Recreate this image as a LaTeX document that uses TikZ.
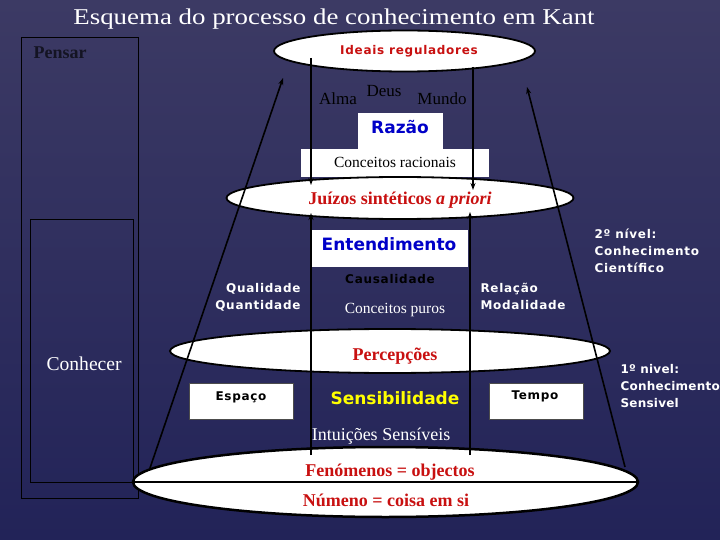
\documentclass[tikz,border=0pt]{standalone}
\usepackage{fontspec}
\setmainfont{Liberation Serif}
\newfontfamily\tagfont{DejaVu Sans Bold}[LetterSpace=6]
\newfontfamily\tagtightfont{DejaVu Sans Bold}[LetterSpace=2]
\newfontfamily\headfont{DejaVu Sans Bold}
\usetikzlibrary{arrows.meta, shapes.geometric}

\definecolor{bgtop}{RGB}{60,58,100}
\definecolor{bgbottom}{RGB}{34,35,88}
\definecolor{kantred}{RGB}{200,16,16}
\definecolor{kantblue}{RGB}{0,0,200}
\definecolor{kantyellow}{RGB}{255,255,0}
\definecolor{pensarink}{RGB}{20,20,35}

\tikzset{
  oval/.style={ellipse, draw=black, line width=1.8pt, fill=white, inner sep=0pt},
  panel/.style={fill=white, inner sep=0pt, anchor=north west},
  framebox/.style={draw=black, line width=0.8pt, inner sep=0pt, anchor=north west},
  tag/.style={font=\fontsize{12}{16}\selectfont\tagfont},
  tagtight/.style={font=\fontsize{12}{16}\selectfont\tagtightfont},
  heading/.style={font=\fontsize{17}{20}\selectfont\headfont},
  serif/.style={font=\fontsize{#1}{#1}\selectfont},
  boldserif/.style={font=\fontsize{#1}{#1}\selectfont\bfseries},
  link/.style={->, line width=1.6pt},
}

\begin{document}
\begin{tikzpicture}[x=1pt, y=-1pt, >={Stealth[length=7pt, width=5pt]}]
    \useasboundingbox (0,0) rectangle (720,540);
    % Background
    \shade[top color=bgtop, bottom color=bgbottom] (0,0) rectangle (720,540);

    % Title
    \node[white, font=\fontsize{22.6}{26}\selectfont, anchor=base] (title) at (334,25)
      {\scalebox{1.19}[1]{Esquema do processo de conhecimento em Kant}};

    % Pensar / Conhecer frames
    \node[framebox, minimum width=117pt, minimum height=461pt] (pensarbox) at (21,37) {};
    \node[framebox, minimum width=103pt, minimum height=263pt] (conhecerbox) at (30,219) {};
    \node[pensarink, boldserif=18, anchor=base west] (pensar) at (30,59) {Pensar};
    \node[white, serif=19.6, anchor=base west] (conhecer) at (43,370) {Conhecer};

    % White panels
    \node[panel, minimum width=85pt, minimum height=36pt] (razaobox) at (358,113) {};
    \node[panel, minimum width=188pt, minimum height=28pt] (racionaisbox) at (301,149) {};
    \node[panel, minimum width=156pt, minimum height=37pt] (entendbox) at (312,230) {};
    \node[framebox, fill=white, draw=black!70, minimum width=104pt, minimum height=36pt] (espacobox) at (189,383) {};
    \node[framebox, fill=white, draw=black!70, minimum width=94pt, minimum height=36pt] (tempobox) at (489,383) {};

    % Levels (ellipses)
    \node[oval, minimum width=261pt, minimum height=41pt] (ideais) at (404.5,51) {};
    \node[oval, minimum width=347pt, minimum height=42pt] (juizos) at (400,198) {};
    \node[oval, minimum width=440pt, minimum height=44pt] (percepcoes) at (390,351) {};
    \node[oval, line width=2.5pt, minimum width=505pt, minimum height=70pt] (fenomenos) at (385.5,482) {};
    \draw[line width=2.2pt] (fenomenos.west) -- (fenomenos.east);

    % Arrows between levels
    \coordinate (ideaisL) at (311,58);
    \coordinate (ideaisR) at (473,67);
    \coordinate (juizosTL) at (311,185);
    \coordinate (juizosTR) at (473,190);
    \coordinate (juizosBL) at (311,213);
    \coordinate (juizosBR) at (470,212);
    \coordinate (baseL) at (311,455);
    \coordinate (baseR) at (470,455);
    \draw[link] (ideaisL) -- (juizosTL);
    \draw[link] (ideaisR) -- (juizosTR);
    \draw[link] (baseL) -- (juizosBL);
    \draw[link] (baseR) -- (juizosBR);

    % Cone sides
    \coordinate (coneLfoot) at (150,468);
    \coordinate (coneLtip) at (283,78);
    \coordinate (coneRfoot) at (625,467);
    \coordinate (coneRtip) at (527,87);
    \draw[link] (coneLfoot) -- (coneLtip);
    \draw[link] (coneRfoot) -- (coneRtip);

    % Top level
    \node[kantred, tag, anchor=base] (ideaistxt) at (409,55) {Ideais reguladores};
    \node[serif=17, anchor=base] (alma) at (338,105) {Alma};
    \node[serif=17, anchor=base] (deus) at (384,97) {Deus};
    \node[serif=17, anchor=base] (mundo) at (442,105) {Mundo};
    \node[kantblue, heading, anchor=base] (razao) at (400,134) {Razão};
    \node[serif=15.5, anchor=base] (racionais) at (395,168) {Conceitos racionais};
    \node[kantred, boldserif=18, anchor=base] (juizostxt) at (400,205) {Juízos sintéticos \textit{a priori}};

    % Understanding
    \node[kantblue, heading, anchor=base] (entend) at (389,251) {Entendimento};
    \node[tag, anchor=base] (causal) at (390,283) {Causalidade};
    \node[white, serif=15.5, anchor=base] (puros) at (395,313) {Conceitos puros};
    \node[white, tag, anchor=base east] (qualidade) at (304,292) {Qualidade};
    \node[white, tag, anchor=base east] (quantidade) at (304,309) {Quantidade};
    \node[white, tag, anchor=base west] (relacao) at (477,292) {Relação};
    \node[white, tag, anchor=base west] (modalidade) at (477,309) {Modalidade};
    \foreach \txt/\y in {2º nível:/238, Conhecimento/255, Científico/272}
      \node[white, tag, anchor=base west] (nivelB\y) at (591,\y) {\txt};

    % Sensibility
    \node[kantred, boldserif=18, anchor=base] (percepcoestxt) at (395,360) {Percepções};
    \node[tag, anchor=base] (espaco) at (241,400) {Espaço};
    \node[tag, anchor=base] (tempo) at (535,399) {Tempo};
    \node[kantyellow, heading, anchor=base] (sensib) at (395,404) {Sensibilidade};
    \node[white, serif=18, anchor=base] (intuicoes) at (381,440) {Intuições Sensíveis};
    \foreach \txt/\y in {1º nivel:/373, Conhecimento/390, Sensivel/407}
      \node[white, tagtight, anchor=base west] (nivelA\y) at (617,\y) {\txt};

    % Bottom level
    \node[kantred, boldserif=18, anchor=base] (objectos) at (390,476) {Fenómenos = objectos};
    \node[kantred, boldserif=18, anchor=base] (numeno) at (386,506) {Númeno = coisa em si};
\end{tikzpicture}
\end{document}
